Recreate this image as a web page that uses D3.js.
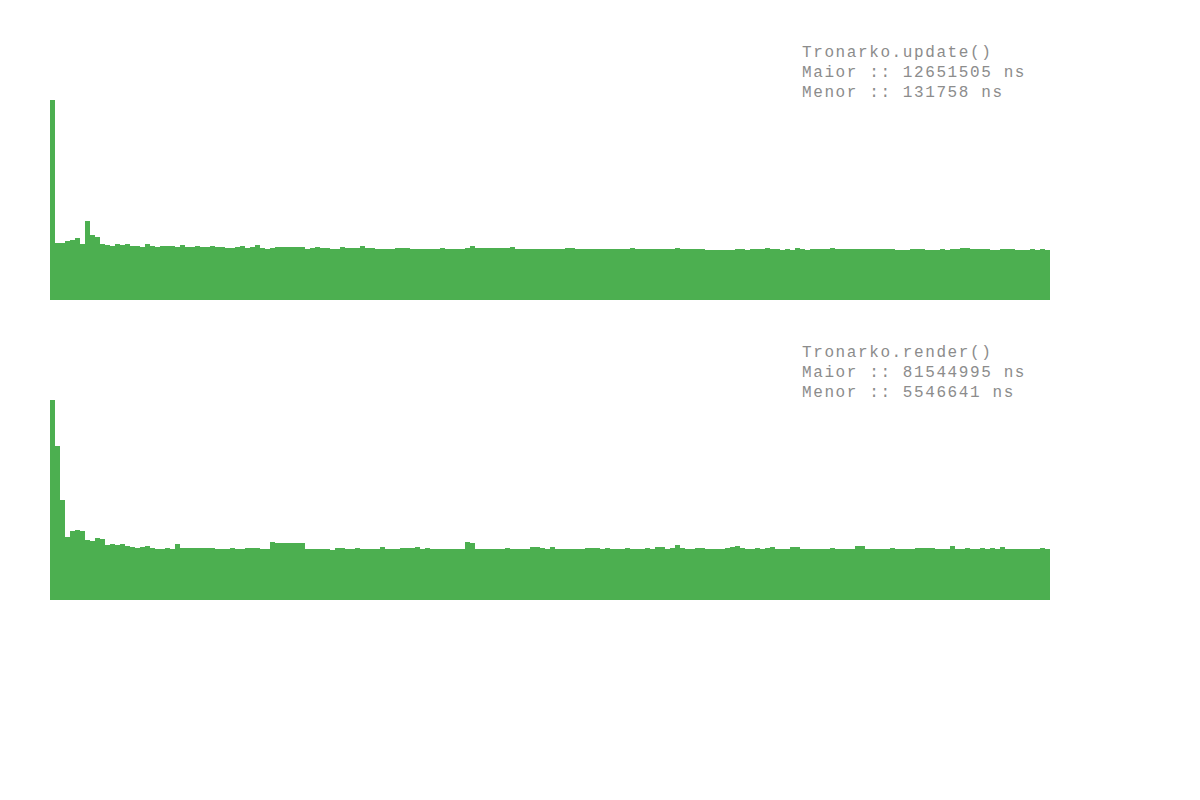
<!DOCTYPE html>
<html>
<head>
<meta charset="utf-8">
<script src="https://cdn.jsdelivr.net/npm/d3@7"></script>
<style>
  body { margin: 0; background: #fff; }
  svg { display: block; }
  .label { font-family: "Liberation Mono", monospace; font-size: 16px; letter-spacing: 1.6px; fill: #8c8c8c; }
</style>
</head>
<body>
<svg width="1200" height="800"></svg>
<script>
// frame times, in relative units (first frame = 200)
const updateFrames = [
  200, 57, 57, 59, 60, 62, 56, 79, 65, 63, 56, 55, 54, 56, 55, 56, 54, 54, 53, 56,
  54, 53, 54, 54, 54, 53, 55, 53, 53, 54, 53, 53, 54, 53, 53, 52, 52, 53, 54, 52,
  53, 55, 52, 51, 52, 53, 53, 53, 53, 53, 53, 51, 52, 53, 52, 52, 51, 51, 53, 52,
  52, 52, 54, 52, 52, 51, 51, 51, 51, 52, 52, 52, 51, 51, 51, 51, 51, 51, 52, 51,
  51, 51, 51, 52, 54, 52, 52, 52, 52, 52, 52, 52, 53, 51, 51, 51, 51, 51, 51, 51,
  51, 51, 51, 52, 52, 51, 51, 51, 51, 51, 51, 51, 51, 51, 51, 51, 52, 51, 51, 51,
  51, 51, 51, 51, 51, 52, 51, 51, 51, 51, 51, 50, 50, 50, 50, 50, 50, 51, 51, 50,
  51, 51, 51, 52, 51, 51, 50, 51, 50, 52, 51, 50, 51, 51, 51, 51, 52, 51, 51, 51,
  51, 51, 51, 51, 51, 51, 51, 51, 51, 50, 50, 50, 51, 51, 51, 50, 50, 50, 51, 50,
  51, 51, 52, 52, 51, 51, 51, 51, 50, 50, 51, 51, 51, 50, 50, 50, 51, 50, 51, 50
];
const renderFrames = [
  200, 154, 100, 63, 69, 70, 69, 60, 59, 62, 61, 55, 56, 55, 56, 54, 53, 52, 53, 54,
  52, 51, 51, 52, 51, 56, 52, 52, 52, 52, 52, 52, 52, 51, 51, 51, 52, 51, 51, 52,
  52, 52, 51, 51, 58, 57, 57, 57, 57, 57, 57, 51, 51, 51, 51, 51, 50, 52, 52, 51,
  51, 52, 51, 51, 51, 51, 53, 51, 51, 51, 52, 52, 52, 53, 51, 52, 51, 51, 51, 51,
  51, 51, 51, 58, 57, 51, 51, 51, 51, 51, 51, 52, 51, 51, 51, 51, 53, 53, 52, 51,
  53, 51, 51, 51, 51, 51, 51, 52, 52, 52, 51, 52, 51, 51, 51, 52, 51, 51, 51, 52,
  51, 53, 53, 51, 52, 55, 52, 51, 51, 52, 52, 51, 51, 51, 51, 52, 53, 54, 52, 51,
  51, 52, 51, 52, 53, 51, 51, 51, 53, 53, 51, 51, 51, 51, 51, 51, 52, 51, 51, 51,
  51, 54, 54, 51, 51, 51, 51, 51, 52, 51, 51, 51, 51, 52, 52, 52, 52, 51, 51, 51,
  54, 51, 51, 52, 51, 51, 52, 51, 52, 51, 53, 51, 51, 51, 51, 51, 51, 51, 52, 51
];
const updateLines = ['Tronarko.update()', 'Maior :: 12651505 ns', 'Menor :: 131758 ns'];
const renderLines = ['Tronarko.render()', 'Maior :: 81544995 ns', 'Menor :: 5546641 ns'];

const prepareSvg = () => {
  const svg = d3.select('svg');
  const svgWidth = +svg.attr('width');
  const svgHeight = +svg.attr('height');
  return { svg, svgWidth, svgHeight };
};

const renderPanel = (svg, frames, lines, top) => {
  const margin = { left: 50, right: 150 };
  const chartHeight = 200;
  const chartWidth = 1200 - (margin.left + margin.right);

  const xScale = d3.scaleBand()
    .domain(d3.range(frames.length))
    .range([0, chartWidth])
    .padding(0);
  const yScale = d3.scaleLinear()
    .domain([0, d3.max(frames)])
    .range([chartHeight, 0]);

  const panel = svg.append('g')
    .attr('class', 'panel')
    .attr('transform', `translate(${margin.left}, ${top})`);

  panel.append('g')
    .attr('class', 'bar-group')
    .selectAll('rect.bar')
    .data(frames)
    .enter()
    .append('rect')
      .attr('class', 'bar')
      .attr('x', (d, i) => xScale(i))
      .attr('width', xScale.bandwidth())
      .attr('y', d => yScale(d))
      .attr('height', d => chartHeight - yScale(d))
      .attr('fill', '#4caf50')
      .attr('shape-rendering', 'crispEdges');

  // stats text in the top right corner
  panel.append('g')
    .attr('class', 'stats')
    .selectAll('text')
    .data(lines)
    .enter()
    .append('text')
      .attr('class', 'label')
      .attr('x', 752)
      .attr('y', (d, i) => -43 + i * 20)
      .text(d => d);
};

const { svg } = prepareSvg();
renderPanel(svg, updateFrames, updateLines, 100);
renderPanel(svg, renderFrames, renderLines, 400);
</script>
</body>
</html>
